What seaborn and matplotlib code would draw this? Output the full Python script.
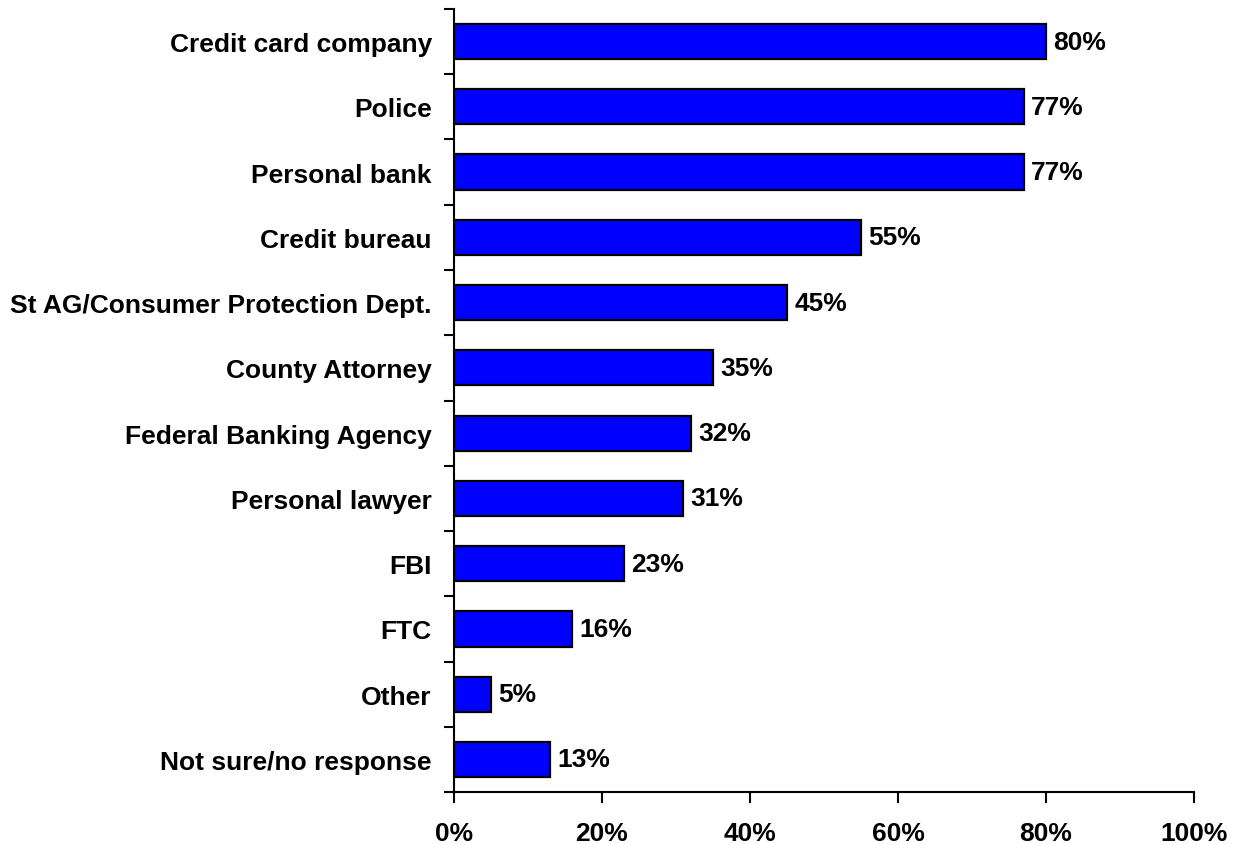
import matplotlib
matplotlib.use("Agg")
import matplotlib.pyplot as plt
import seaborn as sns
import pandas as pd
import numpy as np
from matplotlib.ticker import FixedLocator

categories = [
    "Credit card company",
    "Police",
    "Personal bank",
    "Credit bureau",
    "St AG/Consumer Protection Dept.",
    "County Attorney",
    "Federal Banking Agency",
    "Personal lawyer",
    "FBI",
    "FTC",
    "Other",
    "Not sure/no response",
]
values = [80, 77, 77, 55, 45, 35, 32, 31, 23, 16, 5, 13]
x_ticks = [0, 20, 40, 60, 80, 100]
x_tick_labels = ["0%", "20%", "40%", "60%", "80%", "100%"]

sns.set_style("white")
plt.rcParams["font.family"] = ["Liberation Sans", "DejaVu Sans"]
plt.rcParams["font.weight"] = "bold"
plt.rcParams["text.color"] = "black"
plt.rcParams["xtick.color"] = "black"
plt.rcParams["ytick.color"] = "black"

df = pd.DataFrame({"category": categories, "value": values})

fig = plt.figure(figsize=(12.34, 8.45), dpi=100)
ax = fig.add_axes([0.3679, 0.0615, 0.9676 - 0.3679, 0.9882 - 0.0615])

sns.barplot(data=df, x="value", y="category", orient="h", color="#0000FF",
            saturation=1, width=0.54, edgecolor="black", linewidth=1.6, ax=ax)

ax.set_xlim(0, 100)
ax.set_ylim(len(categories) - 0.5, -0.5)
ax.set_xlabel("")
ax.set_ylabel("")

FS = 19

ax.set_xticks(x_ticks)
ax.set_xticklabels(x_tick_labels, fontsize=FS, fontweight="bold", color="black")
ax.tick_params(axis="x", direction="out", length=8, width=1.5, pad=13, bottom=True)

ax.set_yticks(range(len(categories)))
ax.set_yticklabels(categories, fontsize=FS, fontweight="bold", color="black")
ax.tick_params(axis="y", which="major", length=0, pad=16)
ax.yaxis.set_minor_locator(FixedLocator(np.arange(-0.5, len(categories), 1.0)))
ax.tick_params(axis="y", which="minor", direction="out", length=7, width=1.5, left=True)

for s in ["top", "right"]:
    ax.spines[s].set_visible(False)
for s in ["left", "bottom"]:
    ax.spines[s].set_linewidth(1.5)
    ax.spines[s].set_color("black")

for i, v in enumerate(values):
    ax.text(v + 1.0, i, f"{v}%", va="center", ha="left",
            fontsize=FS, fontweight="bold", color="black")

fig.savefig("out.png", dpi=100)
